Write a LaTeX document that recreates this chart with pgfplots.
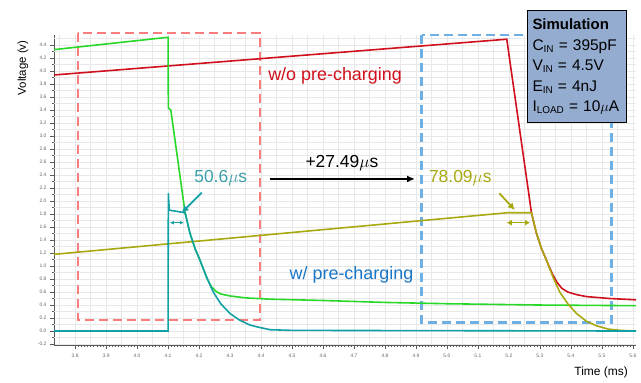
\documentclass[border=0pt]{standalone}
\usepackage{fontspec}
\setmainfont{Liberation Sans}
\usepackage{pgfplots}
\pgfplotsset{compat=1.18}
\usetikzlibrary{arrows.meta}
\definecolor{cred}{RGB}{208,16,28}
\definecolor{cgreen}{RGB}{40,215,40}
\definecolor{cteal}{RGB}{16,160,165}
\definecolor{colive}{RGB}{168,168,16}
\definecolor{cblue}{RGB}{24,118,200}
\definecolor{boxred}{RGB}{250,125,125}
\definecolor{boxblue}{RGB}{110,175,228}
\definecolor{simfill}{RGB}{148,172,208}
\definecolor{tealtext}{RGB}{60,160,170}
\newcommand{\sub}[1]{\raisebox{-0.25ex}{\fontsize{10}{10}\selectfont #1}}
\begin{document}
\begin{tikzpicture}
\begin{axis}[name=ax, scale only axis, width=582bp, height=310bp,
  xmin=3.732, xmax=5.61, ymin=-0.215, ymax=4.555,
  axis x line=bottom, axis y line=left,
  axis line style={-, draw=black!65, line width=0.6pt},
  xtick={3.8,3.9,4.0,4.1,4.2,4.3,4.4,4.5,4.6,4.7,4.8,4.9,5.0,5.1,5.2,5.3,5.4,5.5,5.6},
  ytick={-0.2,0,0.2,0.4,0.6,0.8,1.0,1.2,1.4,1.6,1.8,2.0,2.2,2.4,2.6,2.8,3.0,3.2,3.4,3.6,3.8,4.0,4.2,4.4},
  minor x tick num=9, minor y tick num=1,
  tick align=outside, major tick length=4bp, minor tick length=2bp,
  tick style={black!65, line width=0.4pt},
  grid=major, major grid style={black!9, line width=0.4pt},
  extra x ticks={3.75,3.85,3.95,4.05,4.15,4.25,4.35,4.45,4.55,4.65,4.75,4.85,4.95,5.05,5.15,5.25,5.35,5.45,5.55},
  extra x tick labels={}, extra x tick style={grid=major, major tick length=0pt},
  extra y ticks={-0.1,0.1,0.3,0.5,0.7,0.9,1.1,1.3,1.5,1.7,1.9,2.1,2.3,2.5,2.7,2.9,3.1,3.3,3.5,3.7,3.9,4.1,4.3,4.5},
  extra y tick labels={}, extra y tick style={grid=major, major tick length=0pt},
  /pgf/number format/fixed, /pgf/number format/fixed zerofill,
  /pgf/number format/precision=1, /pgf/number format/assume math mode=true,
  xticklabel style={font=\fontsize{5}{6}\selectfont, text=black!60, yshift=-2bp},
  yticklabel style={font=\fontsize{5}{6}\selectfont, text=black!60},
  ylabel={Voltage (v)},
  ylabel style={at={(axis description cs:-0.0533,0.894)}, anchor=center, font=\fontsize{11.5}{13}\selectfont},
  xlabel={Time (ms)},
  xlabel style={at={(axis description cs:0.94,-0.09)}, anchor=center, font=\fontsize{12}{14}\selectfont},
  clip=false]
% dashed boxes
\draw[boxred, line width=2.6bp, dash pattern=on 9bp off 5bp] (axis cs:3.809,4.586) rectangle (axis cs:4.397,0.17);
\draw[boxblue, line width=2.6bp, dash pattern=on 9bp off 5bp] (axis cs:4.9185,4.555) rectangle (axis cs:5.5315,0.129);
% curves
\addplot[cred, line width=1.6pt] coordinates {(3.732,3.94)(5.193,4.49)(5.273,1.81)(5.289,1.50)(5.305,1.27)(5.321,1.09)(5.34,0.88)(5.355,0.75)(5.37,0.66)(5.39,0.60)(5.418,0.56)(5.45,0.53)(5.526,0.50)(5.61,0.48)};
\addplot[cgreen, line width=1.6pt] coordinates {(3.732,4.33)(4.100,4.52)(4.101,3.43)(4.109,3.40)(4.155,1.82)(4.171,1.50)(4.187,1.27)(4.203,1.09)(4.225,0.82)(4.240,0.68)(4.255,0.61)(4.27,0.57)(4.30,0.54)(4.35,0.51)(4.43,0.49)(4.6,0.47)(4.8,0.44)(5.0,0.42)(5.3,0.40)(5.61,0.39)};
\addplot[colive, line width=1.6pt] coordinates {(3.732,1.18)(5.195,1.82)(5.273,1.82)(5.289,1.50)(5.305,1.27)(5.321,1.09)(5.343,0.82)(5.364,0.60)(5.39,0.42)(5.418,0.27)(5.45,0.15)(5.483,0.08)(5.52,0.03)(5.56,0.01)(5.61,0.0)};
\addplot[cteal, line width=1.6pt] coordinates {(3.732,0.0)(4.100,0.0)(4.101,2.12)(4.104,1.86)(4.155,1.82)(4.171,1.50)(4.187,1.27)(4.203,1.09)(4.225,0.82)(4.246,0.60)(4.27,0.42)(4.30,0.27)(4.33,0.17)(4.365,0.09)(4.40,0.05)(4.43,0.02)(4.5,0.01)(5.61,0.0)};
% annotations
\draw[black, line width=1.8bp, -{Latex[length=8bp,width=7bp]}] (axis cs:4.429,2.34) -- (axis cs:4.897,2.34);
\node[anchor=base, font=\fontsize{17.5}{20}\selectfont] at (axis cs:4.661,2.51) {+27.49$\mu$s};
\draw[cteal, line width=1.8bp, -{Latex[length=7bp,width=7bp]}] (axis cs:4.2086,2.129) -- (axis cs:4.144,1.821);
\draw[cteal, line width=1.2bp, {Latex[length=4bp,width=4bp]}-{Latex[length=4bp,width=4bp]}] (axis cs:4.106,1.667) -- (axis cs:4.151,1.667);
\node[anchor=base, text=tealtext, font=\fontsize{17.5}{20}\selectfont] at (axis cs:4.270,2.29) {50.6$\mu$s};
\draw[colive, line width=1.8bp, -{Latex[length=7bp,width=7bp]}] (axis cs:5.169,2.120) -- (axis cs:5.219,1.862);
\draw[colive, line width=1.6bp, {Latex[length=5bp,width=6bp]}-{Latex[length=5bp,width=6bp]}] (axis cs:5.193,1.667) -- (axis cs:5.268,1.667);
\node[anchor=base, text=colive, font=\fontsize{17.5}{20}\selectfont] at (axis cs:5.043,2.28) {78.09$\mu$s};
\node[anchor=base, text=cred, font=\fontsize{18}{20}\selectfont] at (axis cs:4.639,3.85) {w/o pre-charging};
\node[anchor=base, text=cblue, font=\fontsize{18}{20}\selectfont] at (axis cs:4.692,0.80) {w/ pre-charging};
\node[draw=black, line width=1.2pt, fill=simfill, anchor=north west, inner xsep=5bp, inner ysep=8.5bp, text width=89bp, align=left, font=\fontsize{15.5}{20.5}\selectfont] at (axis cs:5.258,4.940)
 {\textbf{\fontsize{15}{20.5}\selectfont Simulation}\\ C\sub{IN} = 395pF\\ V\sub{IN} = 4.5V\\ E\sub{IN} = 4nJ\\ I\sub{LOAD} = 10$\mu$A};
\end{axis}
\pgfresetboundingbox
\path[use as bounding box] ([shift={(-54bp,-38bp)}]ax.south west) rectangle ([shift={(5bp,35bp)}]ax.north east);
\end{tikzpicture}
\end{document}
